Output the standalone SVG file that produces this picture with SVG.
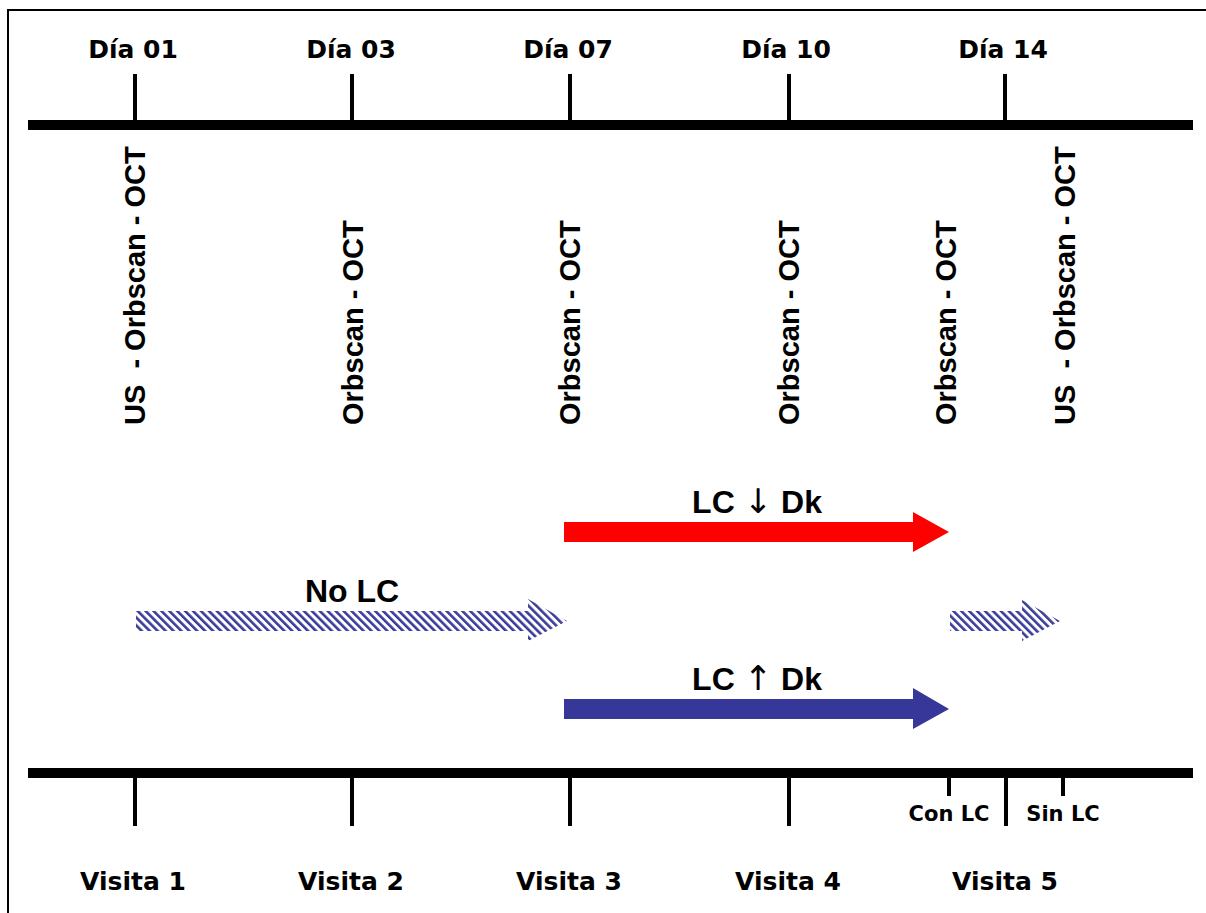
<svg xmlns="http://www.w3.org/2000/svg" width="1206" height="913" viewBox="0 0 1206 913">
  <style>
    .day { font-family: "DejaVu Sans", Verdana, sans-serif; font-weight: bold; font-size: 25px; fill: #000; text-anchor: middle; }
    .small { font-family: "DejaVu Sans", Verdana, sans-serif; font-weight: bold; font-size: 21px; fill: #000; text-anchor: middle; }
    .vert { font-family: "Liberation Sans", Arial, sans-serif; font-weight: bold; font-size: 29px; fill: #000; white-space: pre; }
    .big { font-family: "Liberation Sans", Arial, sans-serif; font-weight: bold; font-size: 32px; fill: #000; text-anchor: middle; }
    .arr { font-family: "DejaVu Sans", sans-serif; font-weight: normal; font-size: 34px; }
    .axis { fill: #000; }
  </style>
  <defs>
    <pattern id="hatch" width="5.6" height="5.6" patternUnits="userSpaceOnUse" patternTransform="rotate(-45)">
      <rect x="0" y="0" width="5.6" height="5.6" fill="#ffffff"/>
      <rect x="0" y="0" width="2.6" height="5.6" fill="#3b3b9b"/>
    </pattern>
  </defs>
  <rect x="0" y="0" width="1206" height="913" fill="#ffffff"/>
  <g id="frame">
    <rect x="7" y="9" width="1199" height="2" fill="#000"/>
    <rect x="7" y="9" width="2" height="904" fill="#000"/>
  </g>
  <g id="top-axis">
    <rect class="axis" x="28" y="120" width="1165" height="10"/>
    <rect class="axis" x="133" y="74" width="4" height="50"/>
    <rect class="axis" x="350" y="74" width="4" height="50"/>
    <rect class="axis" x="568" y="74" width="4" height="50"/>
    <rect class="axis" x="787" y="74" width="4" height="50"/>
    <rect class="axis" x="1003" y="74" width="4" height="50"/>
  </g>
  <g id="day-01"><text class="day" x="133" y="58">Día 01</text></g>
  <g id="day-03"><text class="day" x="351" y="58">Día 03</text></g>
  <g id="day-07"><text class="day" x="568" y="58">Día 07</text></g>
  <g id="day-10"><text class="day" x="786" y="58">Día 10</text></g>
  <g id="day-14"><text class="day" x="1003" y="58">Día 14</text></g>
  <g id="exam-1"><text class="vert" transform="translate(145,425) rotate(-90)">US  - Orbscan - OCT</text></g>
  <g id="exam-2"><text class="vert" transform="translate(363,425) rotate(-90)">Orbscan - OCT</text></g>
  <g id="exam-3"><text class="vert" transform="translate(580,425) rotate(-90)">Orbscan - OCT</text></g>
  <g id="exam-4"><text class="vert" transform="translate(799,425) rotate(-90)">Orbscan - OCT</text></g>
  <g id="exam-5"><text class="vert" transform="translate(956,425) rotate(-90)">Orbscan - OCT</text></g>
  <g id="exam-6"><text class="vert" transform="translate(1075,425) rotate(-90)">US  - Orbscan - OCT</text></g>
  <g id="connectors">
    <g id="arrow-lc-down">
      <polygon points="564,522 913,522 913,512 949,532 913,552 913,542 564,542" fill="#ff0000"/>
      <text class="big" x="757" y="513">LC <tspan class="arr">↓</tspan> Dk</text>
    </g>
    <g id="arrow-no-lc">
      <polygon points="136,611 528,611 528,599 567,621 528,641 528,631 136,631" fill="url(#hatch)"/>
      <text class="big" x="352" y="602">No LC</text>
    </g>
    <g id="arrow-no-lc-2">
      <polygon points="950,611 1022,611 1022,600 1060,621 1022,641 1022,631 950,631" fill="url(#hatch)"/>
    </g>
    <g id="arrow-lc-up">
      <polygon points="564,699 913,699 913,688 949,709 913,729 913,719 564,719" fill="#373799"/>
      <text class="big" x="757" y="690">LC <tspan class="arr">↑</tspan> Dk</text>
    </g>
  </g>
  <g id="bottom-axis">
    <rect class="axis" x="28" y="768" width="1165" height="10"/>
    <rect class="axis" x="133" y="774" width="4" height="52"/>
    <rect class="axis" x="350" y="774" width="4" height="52"/>
    <rect class="axis" x="568" y="774" width="4" height="52"/>
    <rect class="axis" x="787" y="774" width="4" height="52"/>
    <rect class="axis" x="1004" y="774" width="4" height="52"/>
    <rect class="axis" x="947" y="774" width="4" height="22"/>
    <rect class="axis" x="1061" y="774" width="4" height="22"/>
  </g>
  <g id="con-lc"><text class="small" x="949" y="821">Con LC</text></g>
  <g id="sin-lc"><text class="small" x="1063" y="821">Sin LC</text></g>
  <g id="visita-1"><text class="day" x="133" y="890">Visita 1</text></g>
  <g id="visita-2"><text class="day" x="351" y="890">Visita 2</text></g>
  <g id="visita-3"><text class="day" x="569" y="890">Visita 3</text></g>
  <g id="visita-4"><text class="day" x="788" y="890">Visita 4</text></g>
  <g id="visita-5"><text class="day" x="1005" y="890">Visita 5</text></g>
</svg>
